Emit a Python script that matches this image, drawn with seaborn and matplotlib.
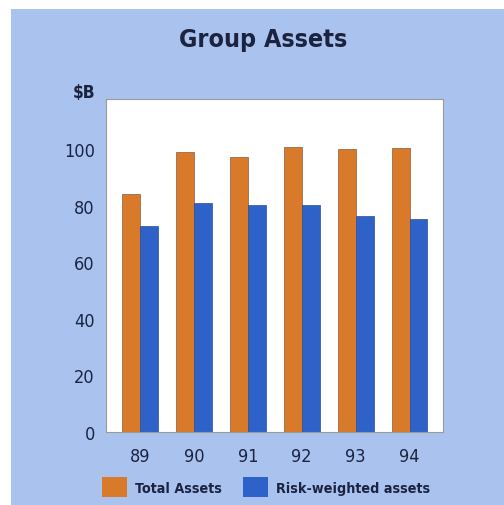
import matplotlib
matplotlib.use("Agg")
import matplotlib.pyplot as plt
from matplotlib.patches import Rectangle, Patch
import seaborn as sns
import pandas as pd

years = ["89", "90", "91", "92", "93", "94"]
total_assets = [84.1, 98.8, 97.1, 100.6, 100.2, 100.4]
risk_weighted = [72.9, 80.8, 80.2, 80.2, 76.2, 75.3]
series_names = ["Total Assets", "Risk-weighted assets"]
y_ticks = [0, 20, 40, 60, 80, 100]

df = pd.DataFrame({
    "year": years * 2,
    "value": total_assets + risk_weighted,
    "series": [series_names[0]] * len(years) + [series_names[1]] * len(years),
})

sns.set_theme(style="white")
plt.rcParams["font.family"] = ["DejaVu Sans"]
plt.rcParams["font.stretch"] = "condensed"

ink = "#1b2340"
panel = "#aac3ee"
orange = "#d97a2a"
blue = "#2f62c8"

fig = plt.figure(figsize=(5.04, 5.06), dpi=100)
fig.patch.set_facecolor("white")
fig.patches.append(Rectangle((11 / 504, 0), 1, 1 - 10 / 506, transform=fig.transFigure,
                             facecolor=panel, edgecolor="none", zorder=-10))

ax = fig.add_axes([106 / 504, 1 - 433 / 506, 337 / 504, 333 / 506])
sns.barplot(data=df, x="year", y="value", hue="series", order=years,
            hue_order=series_names, palette=[orange, blue], saturation=1,
            width=0.665, gap=0, ax=ax, legend=False, linewidth=0.5)
for i, bar in enumerate(ax.patches):
    bar.set_edgecolor("#8a5a3a" if i < len(years) else "#2a4f98")

ax.set_facecolor("white")
ax.set_xlim(-0.63, 5.62)
ax.set_ylim(0, 117.7)
ax.set_yticks(y_ticks)
ax.set_yticklabels([str(t) for t in y_ticks])
ax.set_xlabel("")
ax.set_ylabel("")
ax.tick_params(axis="both", length=0, labelsize=13, colors=ink)
ax.tick_params(axis="x", pad=11)
ax.tick_params(axis="y", pad=8)
for s in ax.spines.values():
    s.set_color("#9a9a9a")
    s.set_linewidth(0.8)

fig.text(263 / 504, 1 - 40 / 506, "Group Assets", ha="center", va="center",
         fontsize=18, fontweight="bold", color=ink)
fig.text(84 / 504, 1 - 93 / 506, "$B", ha="center", va="center",
         fontsize=12.5, fontweight="bold", color=ink)

handles = [Patch(facecolor=orange, edgecolor="none"), Patch(facecolor=blue, edgecolor="none")]
leg = fig.legend(handles, series_names, loc="center", bbox_to_anchor=(266 / 504, 1 - 488 / 506),
                 ncol=2, frameon=False, handlelength=1.75, handleheight=1.75,
                 handletextpad=0.55, columnspacing=1.5,
                 prop={"weight": "bold", "size": 10.3, "stretch": "condensed"})
for t in leg.get_texts():
    t.set_color(ink)

fig.savefig("out.png", dpi=100)
